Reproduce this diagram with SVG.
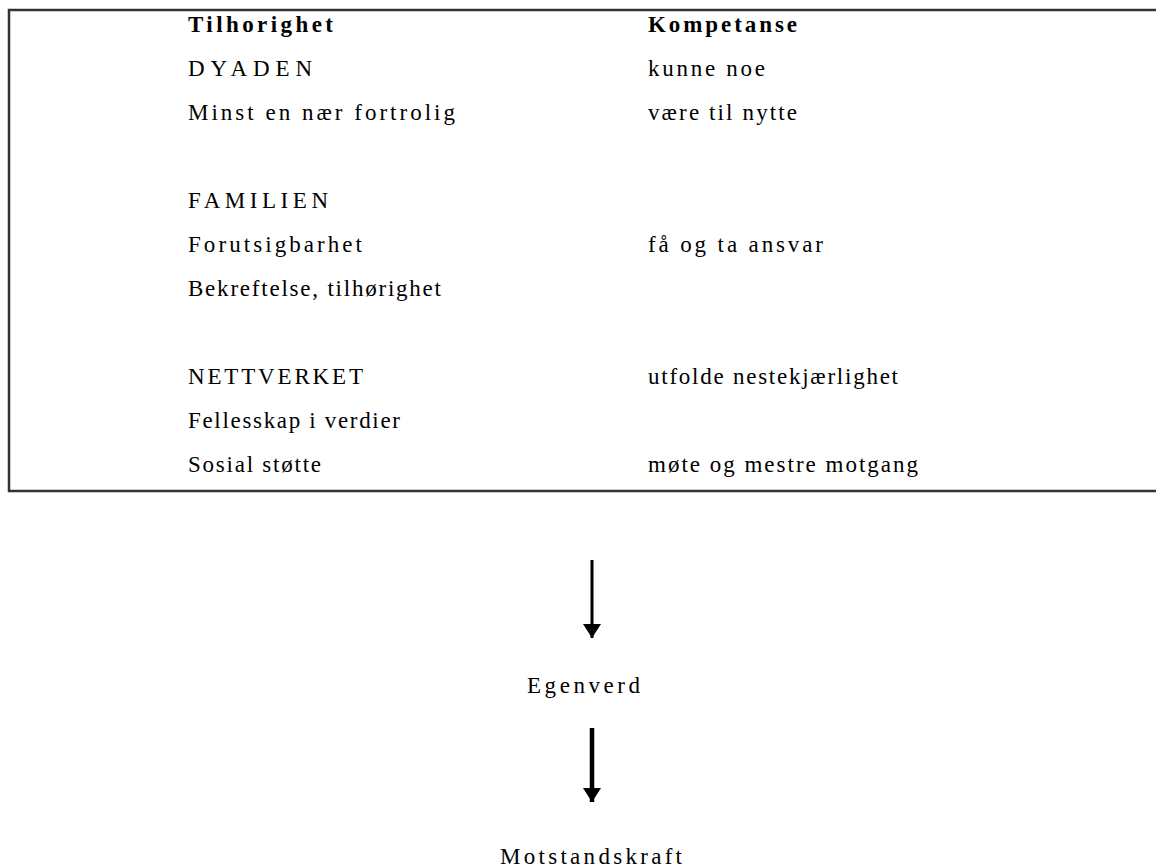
<svg xmlns="http://www.w3.org/2000/svg" width="1156" height="868" viewBox="0 0 1156 868">
<style>
.t{font-family:"Liberation Serif","Times New Roman",serif;font-size:23px;fill:#000}
.b{font-weight:bold}
.box{fill:none;stroke:#333;stroke-width:2.5}
.c{stroke:#000;fill:none}
</style>
<defs>
<marker id="ah" markerUnits="userSpaceOnUse" markerWidth="14" markerHeight="18" refX="14" refY="9" orient="auto" viewBox="0 0 14 18">
<path d="M0,0 L14,9 L0,18 Z" fill="#000"/>
</marker>
</defs>
<rect width="1156" height="868" fill="#fff"/>
<g id="table">
<rect class="box" x="9" y="10" width="1160" height="481"/>
<text class="t b" x="188" y="32" textLength="145" lengthAdjust="spacing">Tilhorighet</text>
<text class="t" x="188" y="76" textLength="124" lengthAdjust="spacing">DYADEN</text>
<text class="t" x="188" y="120" textLength="267" lengthAdjust="spacing">Minst en nær fortrolig</text>
<text class="t" x="188" y="208" textLength="140" lengthAdjust="spacing">FAMILIEN</text>
<text class="t" x="188" y="252" textLength="174" lengthAdjust="spacing">Forutsigbarhet</text>
<text class="t" x="188" y="296" textLength="253" lengthAdjust="spacing">Bekreftelse, tilhørighet</text>
<text class="t" x="188" y="384" textLength="175" lengthAdjust="spacing">NETTVERKET</text>
<text class="t" x="188" y="428" textLength="212" lengthAdjust="spacing">Fellesskap i verdier</text>
<text class="t" x="188" y="472" textLength="133" lengthAdjust="spacing">Sosial støtte</text>
<text class="t b" x="648" y="32" textLength="149" lengthAdjust="spacing">Kompetanse</text>
<text class="t" x="648" y="76" textLength="117" lengthAdjust="spacing">kunne noe</text>
<text class="t" x="648" y="120" textLength="149" lengthAdjust="spacing">være til nytte</text>
<text class="t" x="648" y="252" textLength="175" lengthAdjust="spacing">få og ta ansvar</text>
<text class="t" x="648" y="384" textLength="250" lengthAdjust="spacing">utfolde nestekjærlighet</text>
<text class="t" x="648" y="472" textLength="270" lengthAdjust="spacing">møte og mestre motgang</text>
</g>
<g id="egenverd">
<text class="t" x="527" y="693" textLength="113" lengthAdjust="spacing">Egenverd</text>
</g>
<g id="motstandskraft">
<text class="t" x="500" y="864" textLength="182" lengthAdjust="spacing">Motstandskraft</text>
</g>
<g id="connectors">
<line class="c" x1="592" y1="560" x2="592" y2="638" stroke-width="3" marker-end="url(#ah)"/>
<line class="c" x1="592" y1="728" x2="592" y2="802" stroke-width="4.5" marker-end="url(#ah)"/>
</g>
</svg>
